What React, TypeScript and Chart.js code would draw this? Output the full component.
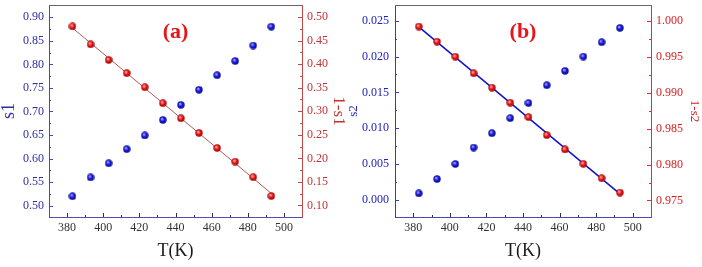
import React, { useEffect, useRef } from "react";
import { Chart, registerables } from "chart.js";
Chart.register(...registerables);

// ---------- data ----------
const temps = [383, 393, 403, 413, 423, 433, 443, 453, 463, 473, 483, 493];
const s1Values = [0.52, 0.56, 0.59, 0.62, 0.649, 0.682, 0.714, 0.746, 0.777, 0.807, 0.84, 0.88];
const oneMinusS1Values = [0.48, 0.442, 0.409, 0.381, 0.351, 0.317, 0.285, 0.254, 0.222, 0.193, 0.16, 0.12];
const s2Values = [0.0009, 0.0029, 0.005, 0.0073, 0.0093, 0.0114, 0.0135, 0.016, 0.018, 0.02, 0.022, 0.024];
const oneMinusS2Values = [0.9992, 0.9971, 0.995, 0.9927, 0.9907, 0.9886, 0.9866, 0.9841, 0.9821, 0.9801, 0.9781, 0.9761];
const xTickValues = [380, 400, 420, 440, 460, 480, 500];
const s1TickValues = [0.5, 0.55, 0.6, 0.65, 0.7, 0.75, 0.8, 0.85, 0.9];
const oneMinusS1TickValues = [0.1, 0.15, 0.2, 0.25, 0.3, 0.35, 0.4, 0.45, 0.5];
const s2TickValues = [0, 0.005, 0.01, 0.015, 0.02, 0.025];
const oneMinusS2TickValues = [0.975, 0.98, 0.985, 0.99, 0.995, 1.0];

const FONT = '"Liberation Serif", "Times New Roman", serif';

type Panel = {
  label: string;
  left: number[];
  right: number[];
  leftTicks: number[];
  rightTicks: number[];
  leftMin: number;
  leftMax: number;
  rightMin: number;
  rightMax: number;
  decimals: number;
  leftTitle: string;
  rightTitle: string;
  leftTitleSize: number;
  rightTitleSize: number;
  leftTitlePad: number;
  rightTitlePad: number;
  leftWidth: number;
  rightWidth: number;
  leftLabelPad: number;
  rightLabelPad: number;
  leftColor: string;
  leftTextColor: string;
  rightColor: string;
  rightTextColor: string;
  bottomColor: string;
  fitColor: string;
  fitWidth: number;
};

const panelA: Panel = {
  label: "(a)",
  left: s1Values,
  right: oneMinusS1Values,
  leftTicks: s1TickValues,
  rightTicks: oneMinusS1TickValues,
  leftMin: 0.476,
  leftMax: 0.926,
  rightMin: 0.0755,
  rightMax: 0.5255,
  decimals: 2,
  leftTitle: "s1",
  rightTitle: "1-s1",
  leftTitleSize: 18,
  rightTitleSize: 17,
  leftTitlePad: 0,
  rightTitlePad: 3,
  leftWidth: 49,
  rightWidth: 48,
  leftLabelPad: 5,
  rightLabelPad: 5,
  leftColor: "#4848b0",
  leftTextColor: "#2e2ea8",
  rightColor: "#c04848",
  rightTextColor: "#c03434",
  bottomColor: "#5050a8",
  fitColor: "#b05858",
  fitWidth: 1,
};

const panelB: Panel = {
  label: "(b)",
  left: s2Values,
  right: oneMinusS2Values,
  leftTicks: s2TickValues,
  rightTicks: oneMinusS2TickValues,
  leftMin: -0.0024,
  leftMax: 0.0272,
  rightMin: 0.9727,
  rightMax: 1.0022,
  decimals: 3,
  leftTitle: "s2",
  rightTitle: "1-s2",
  leftTitleSize: 13,
  rightTitleSize: 13,
  leftTitlePad: 3,
  rightTitlePad: 1.5,
  leftWidth: 51,
  rightWidth: 51,
  leftLabelPad: 6,
  rightLabelPad: 5,
  leftColor: "#3838c0",
  leftTextColor: "#2020c0",
  rightColor: "#e03030",
  rightTextColor: "#d82020",
  bottomColor: "#4848b8",
  fitColor: "#1010d0",
  fitWidth: 1.5,
};

function makeBall(light: string, mid: string, dark: string) {
  const c = document.createElement("canvas");
  c.width = 8;
  c.height = 8;
  const g = c.getContext("2d")!;
  const grad = g.createRadialGradient(3, 2.8, 0.2, 4, 4, 4.2);
  grad.addColorStop(0, light);
  grad.addColorStop(0.45, mid);
  grad.addColorStop(1, dark);
  g.fillStyle = grad;
  g.beginPath();
  g.arc(4, 4, 3.7, 0, Math.PI * 2);
  g.fill();
  return c;
}

function linearFit(xs: number[], ys: number[]) {
  const n = xs.length;
  const mx = xs.reduce((a, b) => a + b, 0) / n;
  const my = ys.reduce((a, b) => a + b, 0) / n;
  let num = 0;
  let den = 0;
  for (let i = 0; i < n; i++) {
    num += (xs[i] - mx) * (ys[i] - my);
    den += (xs[i] - mx) * (xs[i] - mx);
  }
  const k = num / den;
  const b = my - k * mx;
  return [xs[0], xs[n - 1]].map((x) => ({ x, y: k * x + b }));
}

function decorPlugin(p: Panel) {
  return {
    id: "decor" + p.label,
    afterDraw(chart: any) {
      const { ctx, chartArea: ca, scales } = chart;
      ctx.save();
      ctx.lineWidth = 1;
      // top border
      ctx.strokeStyle = "#666666";
      ctx.beginPath();
      ctx.moveTo(ca.left, ca.top + 0.5);
      ctx.lineTo(ca.right, ca.top + 0.5);
      ctx.stroke();

      const line = (x1: number, y1: number, x2: number, y2: number) => {
        ctx.beginPath();
        ctx.moveTo(x1, y1);
        ctx.lineTo(x2, y2);
        ctx.stroke();
      };
      // x ticks (inward)
      const xs = scales.x;
      ctx.strokeStyle = "#333333";
      xTickValues.forEach((v, i) => {
        const px = Math.round(xs.getPixelForValue(v)) + 0.5;
        line(px, ca.bottom, px, ca.bottom - 4);
        if (i < xTickValues.length - 1) {
          const m = Math.round(xs.getPixelForValue((v + xTickValues[i + 1]) / 2)) + 0.5;
          line(m, ca.bottom, m, ca.bottom - 2);
        }
      });
      // left ticks
      const yl = scales.yL;
      ctx.strokeStyle = p.leftColor;
      p.leftTicks.forEach((v, i) => {
        const py = Math.round(yl.getPixelForValue(v)) + 0.5;
        line(ca.left, py, ca.left + 4, py);
        if (i < p.leftTicks.length - 1) {
          const m = Math.round(yl.getPixelForValue((v + p.leftTicks[i + 1]) / 2)) + 0.5;
          line(ca.left, m, ca.left + 2, m);
        }
      });
      // right ticks
      const yr = scales.yR;
      ctx.strokeStyle = p.rightColor;
      p.rightTicks.forEach((v, i) => {
        const py = Math.round(yr.getPixelForValue(v)) + 0.5;
        line(ca.right, py, ca.right - 4, py);
        if (i < p.rightTicks.length - 1) {
          const m = Math.round(yr.getPixelForValue((v + p.rightTicks[i + 1]) / 2)) + 0.5;
          line(ca.right, m, ca.right - 2, m);
        }
      });
      // panel label
      ctx.fillStyle = "#e8141c";
      ctx.font = `bold 22px ${FONT}`;
      ctx.textAlign = "center";
      ctx.textBaseline = "middle";
      ctx.fillText(p.label, (ca.left + ca.right) / 2, ca.top + 27);
      ctx.restore();
    },
  };
}

function buildConfig(p: Panel, blueBall: HTMLCanvasElement, redBall: HTMLCanvasElement): any {
  const tickFont = { family: FONT, size: 12 };
  return {
    type: "scatter",
    data: {
      datasets: [
        {
          label: p.leftTitle,
          data: temps.map((t, i) => ({ x: t, y: p.left[i] })),
          yAxisID: "yL",
          pointStyle: blueBall,
          pointRadius: 4,
          order: 1,
        },
        {
          label: p.rightTitle,
          data: temps.map((t, i) => ({ x: t, y: p.right[i] })),
          yAxisID: "yR",
          pointStyle: redBall,
          pointRadius: 4,
          order: 2,
        },
        {
          label: "fit",
          data: linearFit(temps, p.right),
          yAxisID: "yR",
          showLine: true,
          borderColor: p.fitColor,
          borderWidth: p.fitWidth,
          pointRadius: 0,
          fill: false,
          order: 3,
        },
      ],
    },
    options: {
      responsive: false,
      animation: false,
      devicePixelRatio: 1,
      events: [],
      layout: { padding: { top: 5, left: 0, right: 0, bottom: 0 } },
      plugins: { legend: { display: false }, tooltip: { enabled: false } },
      scales: {
        x: {
          type: "linear",
          position: "bottom",
          min: 370,
          max: 510,
          bounds: "data",
          afterBuildTicks: (s: any) => {
            s.ticks = xTickValues.map((v) => ({ value: v }));
          },
          afterFit: (s: any) => {
            s.height = 50;
            s.paddingLeft = 0;
            s.paddingRight = 0;
          },
          grid: { display: true, drawOnChartArea: false, drawTicks: false },
          border: { display: true, color: p.bottomColor, width: 1 },
          ticks: {
            color: "#333333",
            font: tickFont,
            padding: 4,
            maxRotation: 0,
            autoSkip: false,
            callback: (v: number) => String(v),
          },
          title: {
            display: true,
            text: "T(K)",
            color: "#1a1a1a",
            font: { family: FONT, size: 18, lineHeight: 1 },
            padding: { top: 0, bottom: 7 },
          },
        },
        yL: {
          type: "linear",
          position: "left",
          min: p.leftMin,
          max: p.leftMax,
          bounds: "data",
          afterBuildTicks: (s: any) => {
            s.ticks = p.leftTicks.map((v) => ({ value: v }));
          },
          afterFit: (s: any) => {
            s.width = p.leftWidth;
            s.paddingTop = 0;
            s.paddingBottom = 0;
          },
          grid: { display: true, drawOnChartArea: false, drawTicks: false },
          border: { display: true, color: p.leftColor, width: 1 },
          ticks: {
            color: p.leftTextColor,
            font: tickFont,
            padding: p.leftLabelPad,
            autoSkip: false,
            callback: (v: number) => v.toFixed(p.decimals),
          },
          title: {
            display: true,
            text: p.leftTitle,
            color: p.leftTextColor,
            font: { family: FONT, size: p.leftTitleSize, lineHeight: 1 },
            padding: { top: p.leftTitlePad, bottom: 0 },
          },
        },
        yR: {
          type: "linear",
          position: "right",
          min: p.rightMin,
          max: p.rightMax,
          bounds: "data",
          afterBuildTicks: (s: any) => {
            s.ticks = p.rightTicks.map((v) => ({ value: v }));
          },
          afterFit: (s: any) => {
            s.width = p.rightWidth;
            s.paddingTop = 0;
            s.paddingBottom = 0;
          },
          grid: { display: true, drawOnChartArea: false, drawTicks: false },
          border: { display: true, color: p.rightColor, width: 1 },
          ticks: {
            color: p.rightTextColor,
            font: tickFont,
            padding: p.rightLabelPad,
            autoSkip: false,
            callback: (v: number) => v.toFixed(p.decimals),
          },
          title: {
            display: true,
            text: p.rightTitle,
            color: p.rightTextColor,
            font: { family: FONT, size: p.rightTitleSize, lineHeight: 1 },
            padding: { top: p.rightTitlePad, bottom: 0 },
          },
        },
      },
    },
    plugins: [decorPlugin(p)],
  };
}

export default function App() {
  const refA = useRef<HTMLCanvasElement>(null);
  const refB = useRef<HTMLCanvasElement>(null);

  useEffect(() => {
    const blueBall = makeBall("#b8b8ff", "#1818e0", "#080880");
    const redBall = makeBall("#ffc4c4", "#e81818", "#900000");
    const ca = new Chart(refA.current!, buildConfig(panelA, blueBall, redBall));
    const cb = new Chart(refB.current!, buildConfig(panelB, blueBall, redBall));
    return () => {
      ca.destroy();
      cb.destroy();
    };
  }, []);

  return (
    <div
      style={{
        position: "fixed",
        left: 0,
        top: 0,
        width: 702,
        height: 267,
        background: "#ffffff",
        overflow: "hidden",
      }}
    >
      <canvas
        ref={refA}
        width={350}
        height={267}
        style={{ position: "absolute", left: 0, top: 0, width: 350, height: 267 }}
      />
      <canvas
        ref={refB}
        width={358}
        height={267}
        style={{ position: "absolute", left: 344, top: 0, width: 358, height: 267 }}
      />
    </div>
  );
}
